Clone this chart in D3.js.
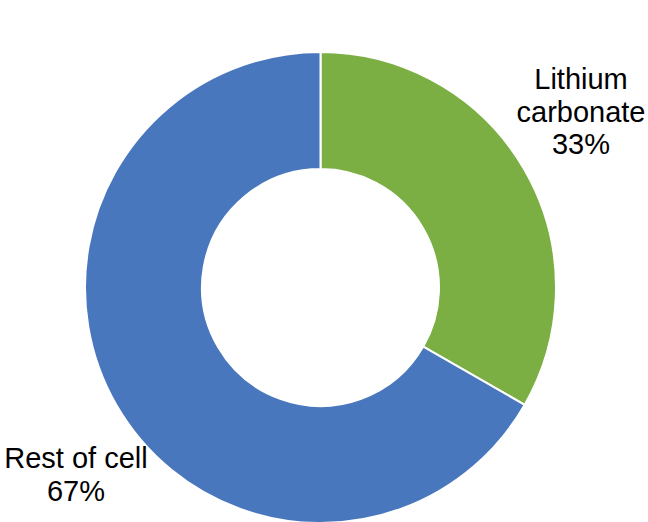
<!DOCTYPE html>
<html>
<head>
<meta charset="utf-8">
<script src="https://cdn.jsdelivr.net/npm/d3@7"></script>
<style>
html,body{margin:0;padding:0;background:#fff;}
svg{display:block;}
text{font-family:"Liberation Sans",Arial,sans-serif;fill:#000;}
</style>
</head>
<body>
<svg id="chart" width="648" height="522"></svg>
<script>
const categories = ["Lithium carbonate", "Rest of cell"];
const values = [33.3, 66.7];
const labels = [["Lithium", "carbonate", "33%"], ["Rest of cell", "67%"]];
const colors = ["#7BAF43", "#4977BD"];

const svg = d3.select("#chart");
const cx = 320.5, cy = 287.5, outerR = 235.5, innerR = 118.5;
const g = svg.append("g").attr("transform", `translate(${cx},${cy})`);

const pie = d3.pie().sort(null).value(d => d)(values);
const arc = d3.arc().innerRadius(innerR).outerRadius(outerR);

g.selectAll("path").data(pie).enter().append("path")
  .attr("d", arc)
  .attr("fill", (d, i) => colors[i])
  .attr("stroke", "#fff")
  .attr("stroke-width", 2);

const labelPos = [{x: 581, y: 89}, {x: 76, y: 468}];
const lineH = 32.7;
labels.forEach((lines, i) => {
  const t = svg.append("text")
    .attr("text-anchor", "middle")
    .attr("font-size", 29);
  lines.forEach((ln, j) => {
    t.append("tspan").attr("x", labelPos[i].x).attr("y", labelPos[i].y + j * lineH).text(ln);
  });
});
</script>
</body>
</html>
